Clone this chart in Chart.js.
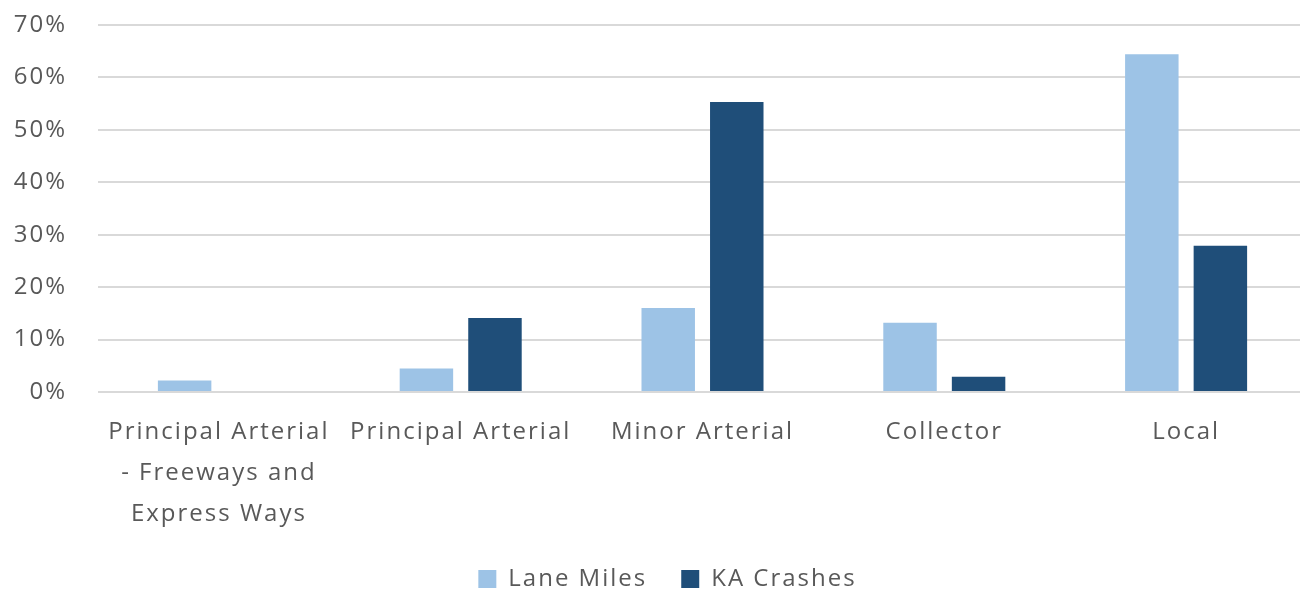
<!DOCTYPE html>
<html>
<head>
<meta charset="utf-8">
<script src="https://cdn.jsdelivr.net/npm/chart.js@4"></script>
<style>
  html, body { margin: 0; padding: 0; background: #fff; overflow: hidden; }
  /* the plot area runs a few pixels past the right edge in the original */
  #wrap { width: 1307px; height: 591px; }
</style>
</head>
<body>
<div id="wrap"><canvas id="chart"></canvas></div>
<script>
const categories = [
    ['Principal Arterial', '- Freeways and', 'Express Ways'],
    'Principal Arterial',
    'Minor Arterial',
    'Collector',
    'Local'
];
const laneMiles = [2.2, 4.5, 16.0, 13.2, 64.4];
const kaCrashes = [0, 14.1, 55.3, 2.9, 27.9];
const yTicks = [0, 10, 20, 30, 40, 50, 60, 70];

const textColor = '#595959';
const fontFamily = '"Open Sans", Lato, sans-serif';

// the reference text is set quite loose, canvas letterSpacing gets reset on resize
const spacing = {
    id: 'spacing',
    beforeUpdate(chart) { chart.ctx.letterSpacing = '2px'; },
    beforeDraw(chart) { chart.ctx.letterSpacing = '2px'; },
    afterLayout(chart) {
        // legend sits a little right of the page centre
        chart.legend.left += 28;
    }
};

const ctx = document.getElementById('chart').getContext('2d');
new Chart(ctx, {
    type: 'bar',
    data: {
        labels: categories,
        datasets: [
            {
                label: 'Lane Miles',
                data: laneMiles,
                backgroundColor: '#9DC3E6',
                categoryPercentage: 0.567,
                barPercentage: 0.78
            },
            {
                label: 'KA Crashes',
                data: kaCrashes,
                backgroundColor: '#1F4E79',
                categoryPercentage: 0.567,
                barPercentage: 0.78
            }
        ]
    },
    plugins: [spacing],
    options: {
        responsive: true,
        maintainAspectRatio: false,
        animation: false,
        layout: { padding: { top: 25, right: 0, bottom: -10, left: 0 } },
        plugins: {
            legend: {
                position: 'bottom',
                labels: {
                    color: textColor,
                    font: { family: fontFamily, size: 24 },
                    boxWidth: 18,
                    boxHeight: 18,
                    padding: 34
                }
            },
            tooltip: { enabled: false }
        },
        scales: {
            x: {
                afterFit: axis => { axis.height = 141; },
                grid: { display: false, drawTicks: false },
                border: { display: false },
                ticks: {
                    color: textColor,
                    font: { family: fontFamily, size: 24, lineHeight: 1.7 },
                    maxRotation: 0,
                    autoSkip: false,
                    padding: 20
                }
            },
            y: {
                min: 0,
                max: 70,
                afterBuildTicks: axis => {
                    axis.ticks = yTicks.map(v => ({ value: v }));
                },
                afterFit: axis => { axis.width = 98; },
                grid: { color: '#D9D9D9', lineWidth: 2, tickLength: 31, tickColor: 'rgba(0,0,0,0)' },
                border: { display: false },
                ticks: {
                    color: textColor,
                    font: { family: fontFamily, size: 24 },
                    padding: 0,
                    callback: v => v + '%'
                }
            }
        }
    }
});
</script>
</body>
</html>
